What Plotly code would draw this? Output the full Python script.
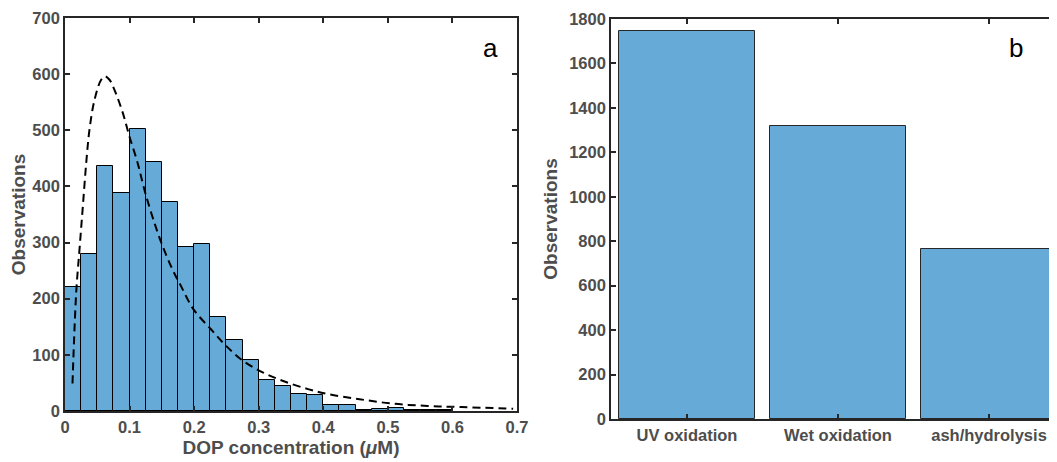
import plotly.graph_objects as go

# ---- Panel a: histogram of DOP concentration ----
bin_width = 0.025
bin_left_edges = [i * 0.025 for i in range(24)]
hist_counts = [220, 280, 436, 388, 503, 443, 372, 292, 298, 168, 126, 91,
               55, 44, 30, 28, 10, 10, 1, 3, 5, 1, 1, 1]

# dashed fit curve
fit_x = [0.0116, 0.0173, 0.0224, 0.0276, 0.0328, 0.0379, 0.0457, 0.056, 0.062,
         0.0689, 0.0766, 0.0895, 0.0998, 0.1127, 0.123, 0.1385, 0.1514, 0.1669,
         0.1799, 0.199, 0.2257, 0.2495, 0.276, 0.3077, 0.339, 0.3764, 0.408,
         0.456, 0.5086, 0.5615, 0.614, 0.694]
fit_y = [49, 210, 287, 364, 441, 501, 554, 590, 596, 590, 572, 531, 489, 441,
         394, 335, 293, 251, 222, 181, 146, 116, 89, 68, 53, 39, 30, 21, 13, 9,
         7, 4]

# ---- Panel b: observations per method ----
methods = ["UV oxidation", "Wet oxidation", "ash/hydrolysis"]
method_counts = [1746, 1320, 767]

BAR = "#66AAD7"
AX = "#262626"
TXT = "#4d4d4d"
FONT = "Liberation Sans, Arial, Helvetica, sans-serif"

# page body has an 8px default margin: size the figure so it ends at the window edge
OFF = 8
WIN_W, WIN_H = 1057, 462
W, H = WIN_W - OFF, WIN_H - OFF


def px_x(p):
    return (p - OFF) / W


def px_y(p):
    return (WIN_H - p) / H


fig = go.Figure()

fig.add_trace(go.Bar(
    x=[e + bin_width / 2 for e in bin_left_edges], y=hist_counts, width=bin_width,
    marker=dict(color=BAR, line=dict(color="black", width=1)),
    xaxis="x", yaxis="y", showlegend=False))

fig.add_trace(go.Scatter(
    x=fit_x, y=fit_y, mode="lines", line=dict(color="black", width=2, dash="8px,5px", shape="spline"),
    xaxis="x", yaxis="y", showlegend=False))

fig.add_trace(go.Bar(
    x=[0, 1, 2], y=method_counts, width=0.9,
    marker=dict(color=BAR, line=dict(color=AX, width=1)),
    xaxis="x2", yaxis="y2", showlegend=False))

common = dict(showgrid=False, zeroline=False, showline=True, linecolor=AX, linewidth=1.7,
              ticks="inside", ticklen=5, tickwidth=1.5, tickcolor=AX, automargin=False,
              tickprefix="<b>", ticksuffix="</b>",
              tickfont=dict(family=FONT, size=16.5, color=TXT))
title_font = dict(family=FONT, size=19, color=TXT)

fig.update_layout(
    width=W, height=H, margin=dict(l=0, r=0, t=0, b=0),
    paper_bgcolor="white", plot_bgcolor="white", bargap=0,
    font=dict(family=FONT, color=TXT),
    xaxis=dict(domain=[px_x(65), px_x(517)], range=[0, 0.7], dtick=0.1, mirror="ticks",
               anchor="y", title=dict(text="<b>DOP concentration (</b><b><i>μ</i></b><b>M)</b>", font=title_font, standoff=6),
               **common),
    yaxis=dict(domain=[px_y(411), px_y(18)], range=[0, 700], dtick=100, mirror="ticks",
               anchor="x", title=dict(text="<b>Observations</b>", font=title_font, standoff=6),
               **common),
    xaxis2=dict(domain=[px_x(611), 1.0], range=[-0.503, 2.45], mirror="ticks", anchor="y2",
                tickvals=[0, 1, 2], ticktext=["<b>%s</b>" % m for m in methods],
                **common),
    yaxis2=dict(domain=[px_y(419), px_y(19)], range=[0, 1800], dtick=200, mirror=False,
                anchor="x2", title=dict(text="<b>Observations</b>", font=title_font, standoff=6),
                **common),
)

fig.add_annotation(text="a", xref="paper", yref="paper", x=px_x(490), y=px_y(48),
                   showarrow=False, xanchor="center", yanchor="middle",
                   font=dict(family=FONT, size=26, color="black"))
fig.add_annotation(text="b", xref="paper", yref="paper", x=px_x(1016), y=px_y(48),
                   showarrow=False, xanchor="center", yanchor="middle",
                   font=dict(family=FONT, size=26, color="black"))

fig.write_html("out.html")
